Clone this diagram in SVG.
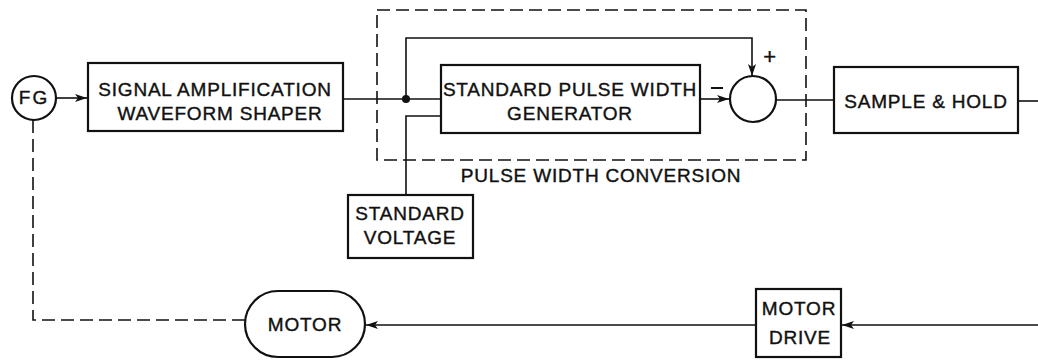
<svg xmlns="http://www.w3.org/2000/svg" width="1038" height="361" viewBox="0 0 1038 361">
<style>
.box{fill:#fff;stroke:#111;stroke-width:2.2}
.ln{fill:none;stroke:#111;stroke-width:1.6}
.dash{fill:none;stroke:#111;stroke-width:1.6;stroke-dasharray:13 6}
text{font-family:"Liberation Sans",Arial,sans-serif;font-size:19px;fill:#111;stroke:#111;stroke-width:0.4;text-anchor:middle;letter-spacing:0.8px}
</style>
<defs>
<marker id="ah" viewBox="0 0 12 8" refX="12" refY="4" markerWidth="12" markerHeight="8" markerUnits="userSpaceOnUse" orient="auto">
<path d="M0,0 L12,4 L0,8 L3,4 Z" fill="#111"/>
</marker>
</defs>
<rect width="1038" height="361" fill="#fff"/>
<g id="connectors">
<line class="ln" x1="56" y1="98" x2="87" y2="98" marker-end="url(#ah)"/>
<line class="ln" x1="343" y1="99" x2="441" y2="99"/>
<polyline class="ln" points="406,99 406,38 752,38 752,76" marker-end="url(#ah)"/>
<circle cx="406" cy="99" r="4" fill="#111"/>
<polyline class="ln" points="441,116 406,116 406,195"/>
<line class="ln" x1="700" y1="99" x2="729" y2="99" marker-end="url(#ah)"/>
<line class="ln" x1="776" y1="100" x2="834" y2="100"/>
<line class="ln" x1="1018" y1="101" x2="1038" y2="101"/>
<line class="ln" x1="1038" y1="325" x2="842" y2="325" marker-end="url(#ah)"/>
<line class="ln" x1="756" y1="325" x2="366" y2="325" marker-end="url(#ah)"/>
<polyline class="dash" points="33,120 33,320 245,320"/>
</g>
<g id="pulse-width-conversion">
<rect class="dash" x="377" y="10" width="429" height="150"/>
<text x="601" y="182">PULSE WIDTH CONVERSION</text>
</g>
<g id="fg">
<circle class="box" cx="34" cy="98" r="22"/>
<text x="34" y="104" style="letter-spacing:2px">FG</text>
</g>
<g id="signal-amp">
<rect class="box" x="88" y="63" width="255" height="68"/>
<text x="215" y="96">SIGNAL AMPLIFICATION</text>
<text x="220" y="120">WAVEFORM SHAPER</text>
</g>
<g id="spw-gen">
<rect class="box" x="441" y="65" width="259" height="68"/>
<text x="570" y="96">STANDARD PULSE WIDTH</text>
<text x="570" y="120">GENERATOR</text>
</g>
<g id="sum">
<circle class="box" cx="753" cy="99" r="23"/>
<text x="770" y="64" style="font-size:22px">+</text>
<line class="ln" x1="711" y1="88" x2="723" y2="88" style="stroke-width:2"/>
</g>
<g id="sample-hold">
<rect class="box" x="834" y="67" width="184" height="66"/>
<text x="926" y="108">SAMPLE &amp; HOLD</text>
</g>
<g id="standard-voltage">
<rect class="box" x="348" y="195" width="125" height="63"/>
<text x="410" y="220">STANDARD</text>
<text x="410" y="244">VOLTAGE</text>
</g>
<g id="motor-drive">
<rect class="box" x="756" y="289" width="85" height="68"/>
<text x="799" y="315">MOTOR</text>
<text x="800" y="344">DRIVE</text>
</g>
<g id="motor">
<rect class="box" x="245" y="291" width="120" height="66" rx="33" ry="33"/>
<text x="305" y="331">MOTOR</text>
</g>
</svg>
